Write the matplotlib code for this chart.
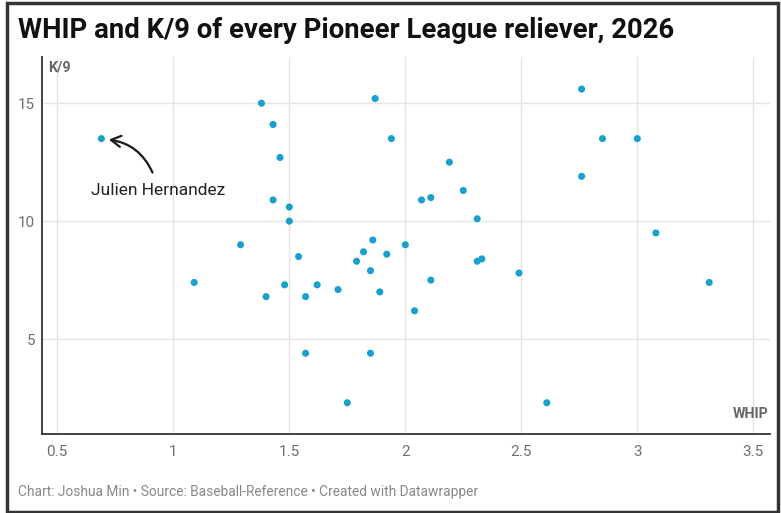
import matplotlib
matplotlib.use("Agg")
import matplotlib.pyplot as plt
from matplotlib.patches import Rectangle

plt.rcParams['font.family'] = ['Roboto', 'DejaVu Sans']

whip = [0.69, 1.09, 1.29, 1.38, 1.43, 1.46, 1.43, 1.50, 1.50, 1.40, 1.48, 1.54,
        1.57, 1.62, 1.57, 1.71, 1.75, 1.79, 1.82, 1.86, 1.85, 1.89, 1.92, 1.85,
        1.87, 1.94, 2.00, 2.04, 2.19, 2.07, 2.11, 2.25, 2.31, 2.11, 2.31, 2.33,
        2.49, 2.61, 2.76, 2.76, 2.85, 3.00, 3.08, 3.31]
k9 = [13.5, 7.4, 9.0, 15.0, 14.1, 12.7, 10.9, 10.6, 10.0, 6.8, 7.3, 8.5,
      6.8, 7.3, 4.4, 7.1, 2.3, 8.3, 8.7, 9.2, 7.9, 7.0, 8.6, 4.4,
      15.2, 13.5, 9.0, 6.2, 12.5, 10.9, 11.0, 11.3, 10.1, 7.5, 8.3, 8.4,
      7.8, 2.3, 15.6, 11.9, 13.5, 13.5, 9.5, 7.4]
x_ticks = [0.5, 1, 1.5, 2, 2.5, 3, 3.5]
x_tick_labels = ["0.5", "1", "1.5", "2", "2.5", "3", "3.5"]
y_ticks = [5, 10, 15]
y_tick_labels = ["5", "10", "15"]
highlight_name = "Julien Hernandez"
highlight_idx = 0

W, H = 781, 513
fig = plt.figure(figsize=(W / 100, H / 100), dpi=100)
ax = fig.add_axes([42 / W, (H - 434) / H, 728 / W, 377 / H])

ax.set_xlim(0.434, 3.572)
ax.set_ylim(0.975, 16.96)

ax.set_xticks(x_ticks)
ax.set_xticklabels(x_tick_labels)
ax.set_yticks(y_ticks)
ax.set_yticklabels(y_tick_labels)
ax.grid(True, color='#e5e5e5', linewidth=1.0, zorder=0)
ax.set_axisbelow(True)
ax.tick_params(axis='both', length=0, labelsize=11, labelcolor='#707070')
ax.tick_params(axis='x', pad=8)
ax.tick_params(axis='y', pad=5)

for s in ['top', 'right']:
    ax.spines[s].set_visible(False)
for s in ['left', 'bottom']:
    ax.spines[s].set_color('#333333')
    ax.spines[s].set_linewidth(1.3)

ax.scatter(whip, k9, s=26, color='#18a1cd', edgecolors='none', zorder=3)

ax.text(0.008, 0.99, "K/9", transform=ax.transAxes, ha='left', va='top',
        fontsize=10.3, fontweight='bold', color='#666666')
ax.text(0.998, 0.035, "WHIP", transform=ax.transAxes, ha='right', va='bottom',
        fontsize=10.3, fontweight='bold', color='#666666')

hx, hy = whip[highlight_idx], k9[highlight_idx]
ax.annotate("", xy=(hx + 0.02, hy - 0.03), xytext=(hx + 0.225, hy - 1.55),
            arrowprops=dict(arrowstyle='->,head_length=0.7,head_width=0.4',
                            color='#1a1a1a', lw=1.6,
                            connectionstyle='arc3,rad=0.3'))
ax.text(hx - 0.045, hy - 2.2, highlight_name, ha='left', va='center',
        fontsize=12.5, color='#222222')

fig.text(18 / W, 1 - 30 / H, "WHIP and K/9 of every Pioneer League reliever, 2026",
         ha='left', va='center', fontsize=19.8, fontweight='bold', color='#111111')
fig.text(18 / W, 1 - 492 / H,
         "Chart: Joshua Min \u2022 Source: Baseball-Reference \u2022 Created with Datawrapper",
         ha='left', va='center', fontsize=9.9, color='#888888')

fig.patches.append(Rectangle((6.5 / W, 1.5 / H), (W - 10) / W, (H - 4) / H,
                             transform=fig.transFigure, fill=False,
                             edgecolor='#333333', linewidth=2.5))

fig.savefig("out.png", dpi=100)
